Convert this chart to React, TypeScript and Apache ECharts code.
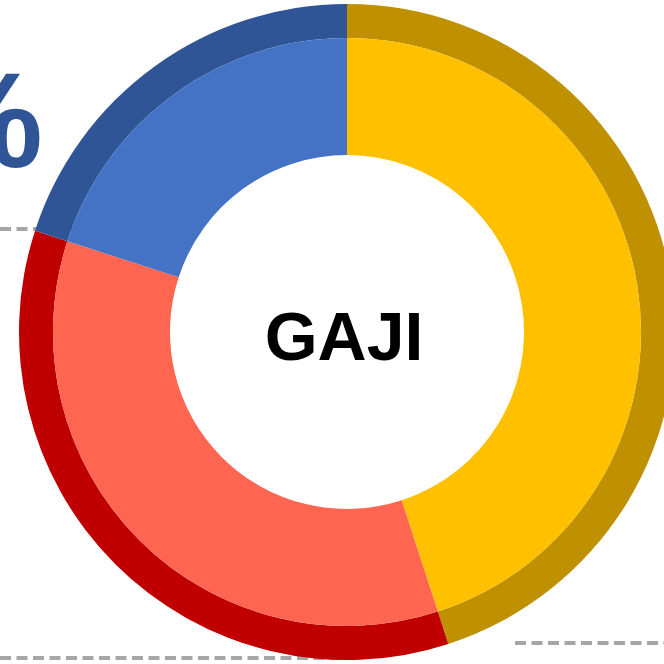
import React, { useEffect, useRef } from "react";
import * as echarts from "echarts";

const categories = ["Kuning", "Merah", "Biru"];
const values = [45, 35, 20];
const innerColors = ["#FFC000", "#FF6652", "#4472C4"];
const outerColors = ["#BF9000", "#C00000", "#2F5597"];
const centerLabel = "GAJI";

export default function App() {
  const ref = useRef<HTMLDivElement>(null);
  useEffect(() => {
    document.body.style.margin = "0";
    const chart = echarts.init(ref.current!, null, { renderer: "svg" });
    const data = categories.map((c, i) => ({ name: c, value: values[i] }));
    const dash = { stroke: "#A6A6A6", lineWidth: 4, lineDash: [11, 5.5] };
    chart.setOption({
      animation: false,
      backgroundColor: "#FFFFFF",
      series: [
        {
          type: "pie",
          center: [347, 332],
          radius: [294, 328],
          startAngle: 90,
          clockwise: true,
          label: { show: false },
          labelLine: { show: false },
          silent: true,
          z: 5,
          data: data.map((d, i) => ({ ...d, itemStyle: { color: outerColors[i] } })),
        },
        {
          type: "pie",
          center: [347, 332],
          radius: [177, 294],
          startAngle: 90,
          clockwise: true,
          label: { show: false },
          labelLine: { show: false },
          silent: true,
          z: 5,
          data: data.map((d, i) => ({ ...d, itemStyle: { color: innerColors[i] } })),
        },
      ],
      graphic: [
        {
          type: "line",
          z: 1,
          shape: { x1: 0, y1: 229, x2: 120, y2: 229 },
          style: dash,
        },
        {
          type: "line",
          z: 1,
          shape: { x1: 515, y1: 643, x2: 664, y2: 643 },
          style: dash,
        },
        {
          type: "line",
          z: 1,
          shape: { x1: 0, y1: 658, x2: 347, y2: 658 },
          style: dash,
        },
        {
          type: "text",
          z: 100,
          x: 43,
          y: 120,
          style: {
            text: "%",
            fill: "#2F5597",
            font: "bold 136px 'Liberation Sans', Arial, sans-serif",
            textAlign: "right",
            textVerticalAlign: "middle",
          },
        },
        {
          type: "text",
          z: 100,
          x: 344,
          y: 336,
          style: {
            text: centerLabel,
            fill: "#000000",
            font: "bold 68px 'Liberation Sans', Arial, sans-serif",
            textAlign: "center",
            textVerticalAlign: "middle",
          },
        },
      ],
    });
    return () => chart.dispose();
  }, []);
  return (
    <div
      ref={ref}
      style={{ position: "fixed", left: 0, top: 0, width: 664, height: 664 }}
    />
  );
}
